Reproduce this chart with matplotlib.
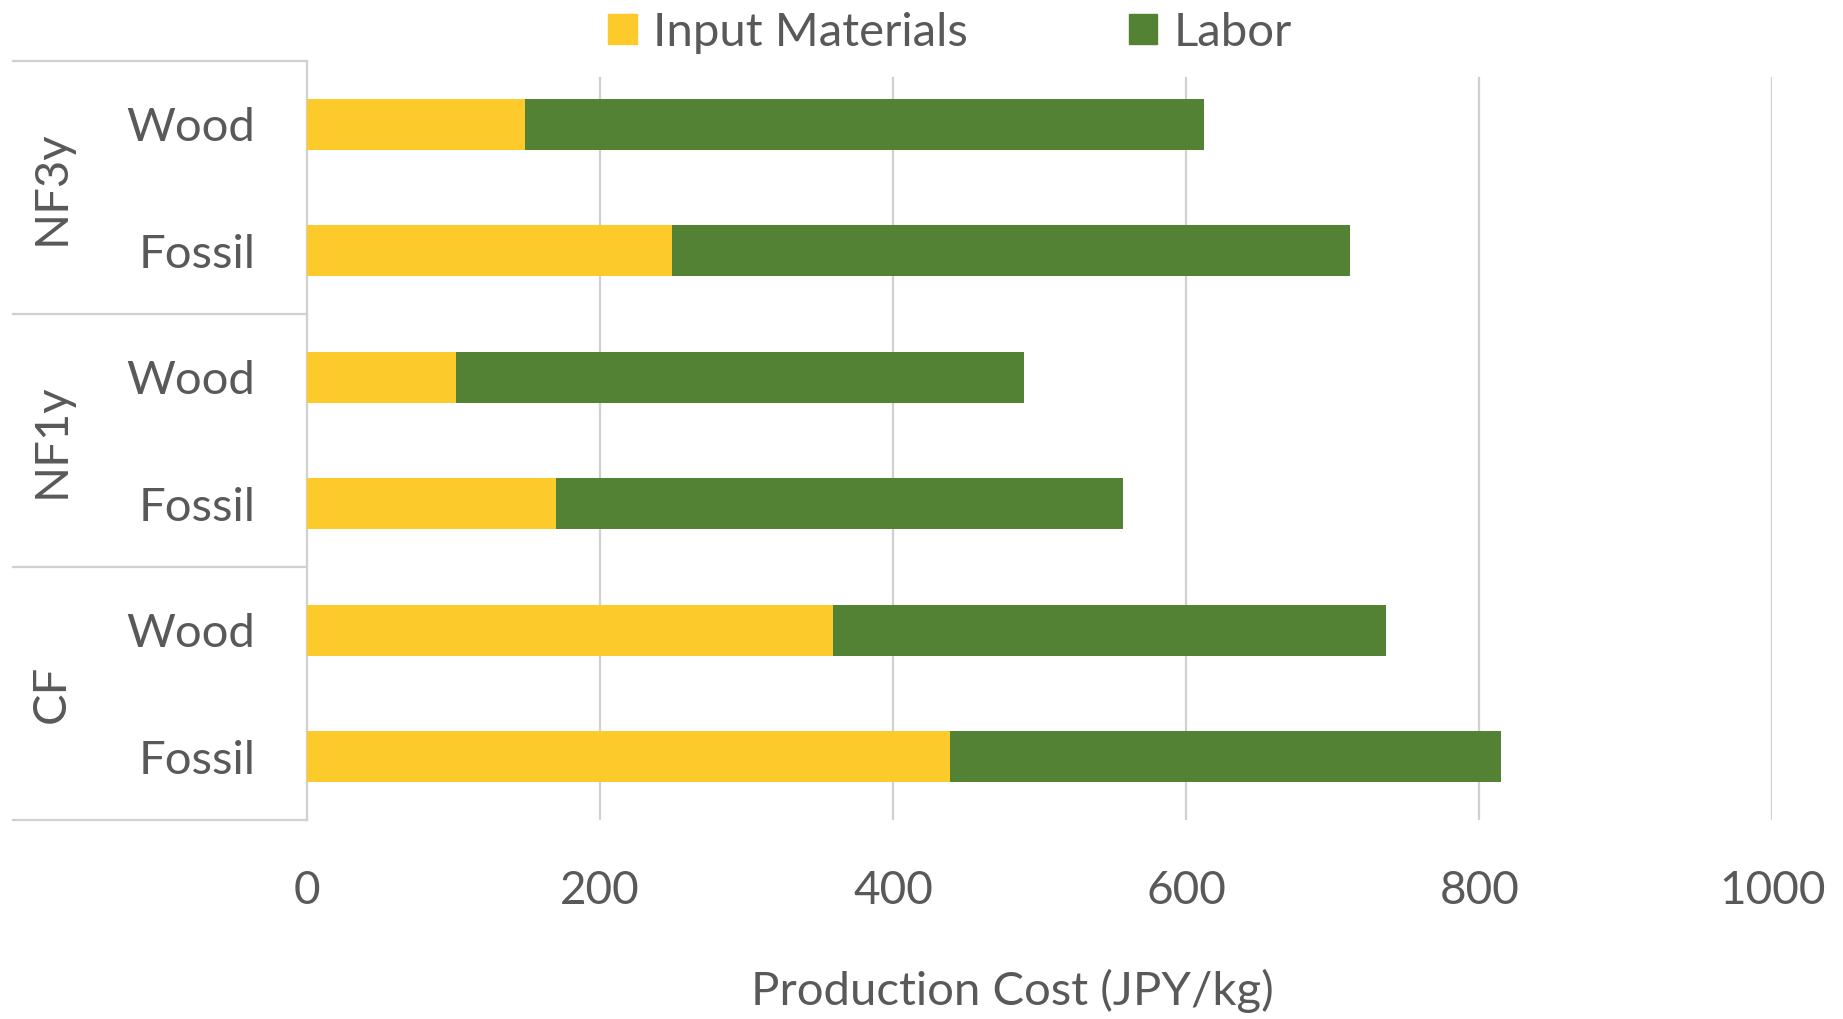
import numpy as np
import matplotlib
matplotlib.use("Agg")
import matplotlib.pyplot as plt
from matplotlib.patches import Patch

plt.rcParams["font.family"] = ["Lato", "DejaVu Sans"]

# cost breakdown, top to bottom
groups = ["NF3y", "NF1y", "CF"]
fuels = ["Wood", "Fossil"]
input_materials = [149, 249, 102, 170, 359, 439]
labor = [463, 463, 387, 387, 377, 376]
x_ticks = [0, 200, 400, 600, 800, 1000]

YELLOW = "#FDCA2B"
GREEN = "#548235"
TEXT = "#595959"
LINE = "#D0D0D0"

W, H = 1843, 1019
fig = plt.figure(figsize=(W / 100, H / 100), dpi=100)
left, right, top, bottom = 307, 1772.5, 61, 820
ax = fig.add_axes([left / W, 1 - bottom / H, (right - left) / W, (bottom - top) / H])

labels = [f for g in groups for f in fuels]
y = np.arange(len(labels))
ax.barh(y, input_materials, height=0.4, color=YELLOW, zorder=3)
ax.barh(y, labor, left=input_materials, height=0.4, color=GREEN, zorder=3)

ax.set_xlim(0, 1000)
ax.set_ylim(len(labels) - 0.5, -0.5)

# vertical gridlines, starting a little below the top
for t in x_ticks[1:]:
    ax.axvline(t, ymin=0, ymax=(bottom - 78) / (bottom - top), color=LINE, lw=1.6, zorder=1)

for s in ["top", "right", "bottom"]:
    ax.spines[s].set_visible(False)
ax.spines["left"].set_color(LINE)
ax.spines["left"].set_linewidth(1.6)

ax.set_xticks(x_ticks)
ax.set_xticklabels([str(t) for t in x_ticks])
ax.set_yticks(y)
ax.set_yticklabels(labels)
ax.tick_params(axis="x", length=0, pad=36, labelsize=33, labelcolor=TEXT)
ax.tick_params(axis="y", length=0, pad=37, labelsize=34, labelcolor=TEXT)

# group separators and group names on the category axis
x_edge = (13 - left) / (right - left)
x_grp = (52 - left) / (right - left)
trans = ax.get_yaxis_transform()
for b in np.arange(-0.5, len(labels), 2):
    ax.plot([x_edge, 0], [b, b], transform=trans, color=LINE, lw=1.6, clip_on=False)
for i, g in enumerate(groups):
    ax.text(x_grp, 2 * i + 0.5, g, transform=trans, rotation=90, ha="center", va="center",
            fontsize=34, color=TEXT)

fig.text(1012 / W, 1 - 991 / H, "Production Cost (JPY/kg)", ha="center", va="center",
         fontsize=34, color=TEXT)

handles = [Patch(color=YELLOW, label="Input Materials"), Patch(color=GREEN, label="Labor")]
fig.legend(handles=handles, loc="center", bbox_to_anchor=(950 / W, 1 - 33 / H), ncol=2,
           frameon=False, fontsize=34, labelcolor=TEXT, handlelength=0.6, handleheight=0.6,
           handletextpad=0.35, columnspacing=3.4, borderpad=0, borderaxespad=0)

fig.savefig("out.png", dpi=100, facecolor="white")
